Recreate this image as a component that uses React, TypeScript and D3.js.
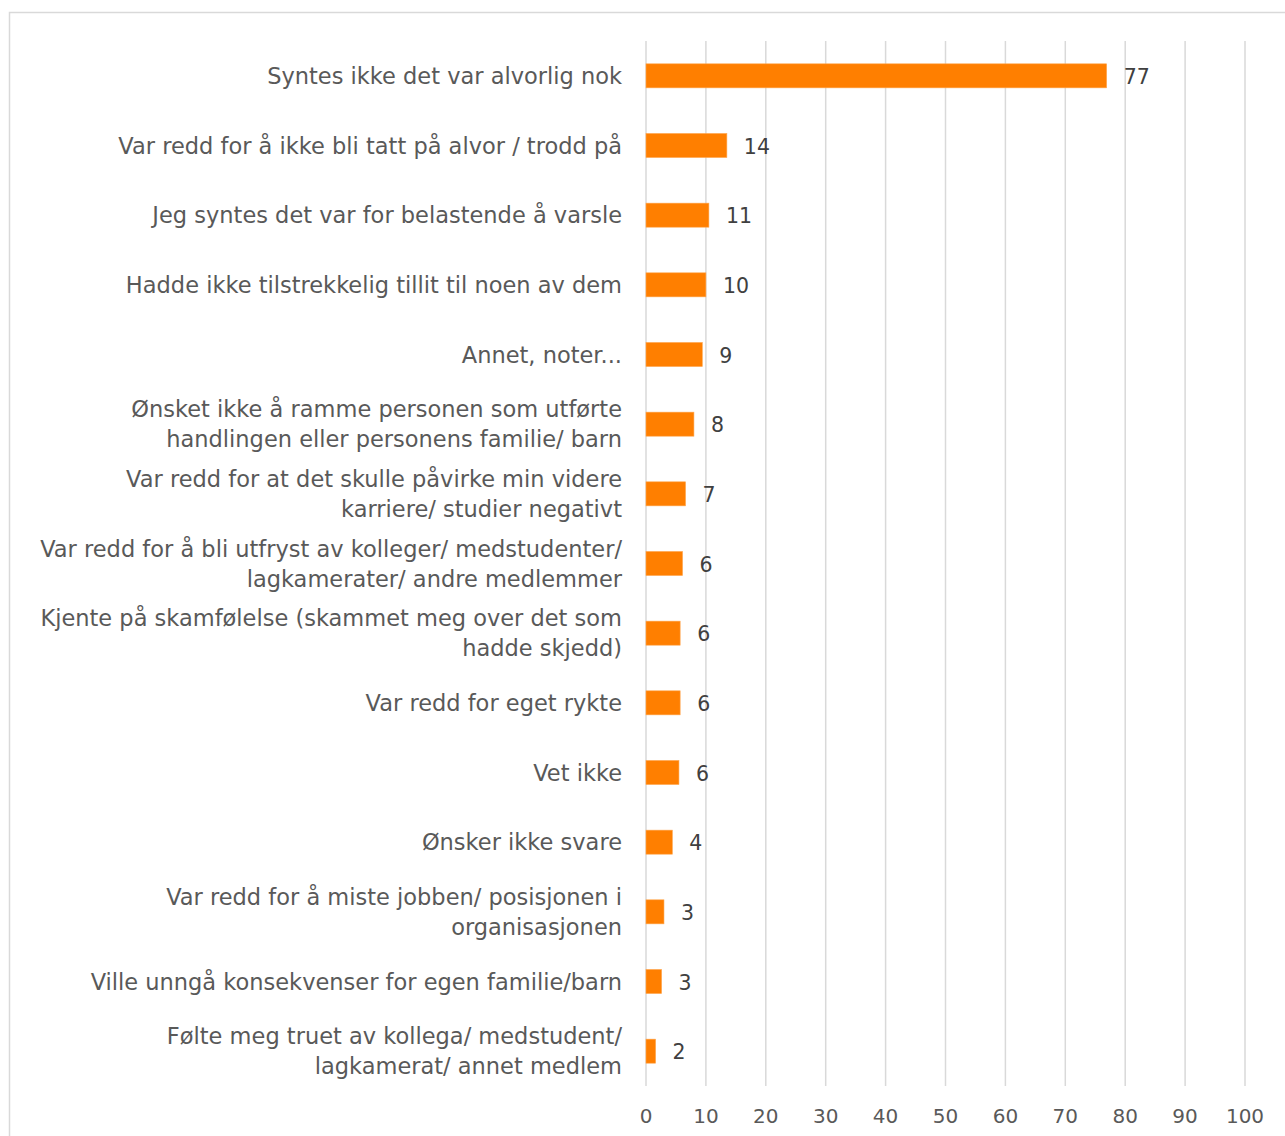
import React from "react";
import * as d3 from "d3";

const categories: string[] = [
  "Syntes ikke det var alvorlig nok",
  "Var redd for å ikke bli tatt på alvor / trodd på",
  "Jeg syntes det var for belastende å varsle",
  "Hadde ikke tilstrekkelig tillit til noen av dem",
  "Annet, noter...",
  "Ønsket ikke å ramme personen som utførte\nhandlingen eller personens familie/ barn",
  "Var redd for at det skulle påvirke min videre\nkarriere/ studier negativt",
  "Var redd for å bli utfryst av kolleger/ medstudenter/\nlagkamerater/ andre medlemmer",
  "Kjente på skamfølelse (skammet meg over det som\nhadde skjedd)",
  "Var redd for eget rykte",
  "Vet ikke",
  "Ønsker ikke svare",
  "Var redd for å miste jobben/ posisjonen i\norganisasjonen",
  "Ville unngå konsekvenser for egen familie/barn",
  "Følte meg truet av kollega/ medstudent/\nlagkamerat/ annet medlem",
];

const values: number[] = [76.9, 13.5, 10.5, 10.0, 9.4, 8.0, 6.6, 6.1, 5.7, 5.7, 5.5, 4.4, 3.0, 2.6, 1.6];

const xTicks: number[] = [0, 10, 20, 30, 40, 50, 60, 70, 80, 90, 100];

const W = 1285;
const H = 1136;
const FONT = "'DejaVu Sans', sans-serif";

export default function App() {
  const x = d3.scaleLinear().domain([0, 100]).range([646, 1245]);
  const y = d3
    .scaleBand<string>()
    .domain(categories)
    .range([41, 1086])
    .paddingInner(0.655)
    .paddingOuter(0.3275);
  const fmt = d3.format(".0f");
  const lineH = 30;

  return (
    <svg
      width={W}
      height={H}
      style={{ position: "absolute", left: 0, top: 0, background: "#fff" }}
      fontFamily={FONT}
    >
      <rect x={9.5} y={12.5} width={1400} height={1300} fill="#fff" stroke="#D9D9D9" strokeWidth={1.5} />
      {xTicks.map((t) => (
        <g key={t}>
          <line x1={x(t)} x2={x(t)} y1={41} y2={1086} stroke="#D9D9D9" strokeWidth={1.5} />
          <text x={x(t)} y={1116} textAnchor="middle" dominantBaseline="central" fontSize={20} fill="#595959">
            {t}
          </text>
        </g>
      ))}
      {categories.map((c, i) => {
        const cy = (y(c) as number) + y.bandwidth() / 2;
        const lines = c.split("\n");
        const v = values[i];
        return (
          <g key={c}>
            <rect x={x(0)} y={y(c)} width={x(v) - x(0)} height={y.bandwidth()} fill="#FF7F00" stroke="#FFA64D" strokeWidth={0.6} />
            <text x={x(v) + 17} y={cy + 1} dominantBaseline="central" fontSize={20.5} fill="#404040">
              {fmt(v)}
            </text>
            <text x={622} textAnchor="end" fontSize={22.5} fill="#595959" dominantBaseline="central">
              {lines.map((l, j) => (
                <tspan key={j} x={622} y={cy + (j - (lines.length - 1) / 2) * lineH}>
                  {l}
                </tspan>
              ))}
            </text>
          </g>
        );
      })}
    </svg>
  );
}
